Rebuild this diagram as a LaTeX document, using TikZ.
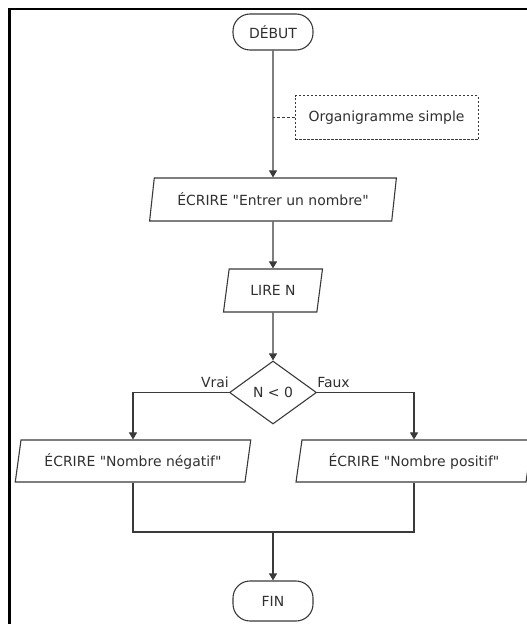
\documentclass[tikz,border=0pt]{standalone}
\usepackage{fontspec}
\setmainfont{DejaVu Sans}
\usetikzlibrary{shapes.geometric,arrows.meta}
\definecolor{ln}{HTML}{3A3A3A}
\definecolor{tx}{HTML}{303030}
\begin{document}
\begin{tikzpicture}[x=1bp,y=-1bp, font=\fontsize{14}{16}\selectfont, text=tx,
  base/.style={draw=ln, line width=1.1bp, inner sep=0pt},
  term/.style={base, rectangle, rounded corners=17bp, minimum width=80bp, minimum height=36bp},
  io/.style={base, trapezium, trapezium left angle=74, trapezium right angle=106, trapezium stretches=true, minimum height=43bp},
  dec/.style={base, diamond, minimum width=87bp, minimum height=63bp},
  note/.style={draw=ln, line width=1bp, dash pattern=on 2.5bp off 1.5bp, minimum width=183bp, minimum height=44bp},
  notelink/.style={draw=ln, line width=1bp, dash pattern=on 3bp off 2bp},
  flow/.style={draw=ln, line width=1.1bp, -{Triangle[width=8bp,length=7bp]}},
  link/.style={draw=ln, line width=1.1bp},
  lbl/.style={inner sep=0pt}]
\useasboundingbox (0,0) rectangle (527,624);
\fill[white] (0,0) rectangle (527,624);
\draw[line width=2.5bp, black, line join=miter] (9.25,624) -- (9.25,9.25) -- (527,9.25);

\node[term] (start) at (273,32) {DÉBUT};
\node[note] (nt) at (386.5,118) {Organigramme simple};
\node[io, minimum width=247bp] (w1) at (273,199.5) {ÉCRIRE \textquotedbl Entrer un nombre\textquotedbl};
\node[io, minimum width=99bp] (rd) at (273,290.5) {LIRE N};
\node[dec] (d) at (273,392.5) {N < 0};
\node[io, minimum width=236bp, minimum height=42bp] (neg) at (133,461) {ÉCRIRE \textquotedbl Nombre négatif\textquotedbl};
\node[io, minimum width=236bp, minimum height=42bp] (pos) at (414,461) {ÉCRIRE \textquotedbl Nombre positif\textquotedbl};
\node[term, minimum height=40bp] (fin) at (273,601) {FIN};
\coordinate (m) at (273,532);

\node[lbl, anchor=base east] (vrai) at ([yshift=5bp]d.west) {Vrai};
\node[lbl, anchor=base west] (faux) at ([yshift=5bp]d.east) {Faux};

\draw[flow] (start) -- (w1);
\draw[notelink] (nt.west) -- (start.south |- nt.west);
\draw[flow] (w1) -- (rd);
\draw[flow] (rd) -- (d);
\draw[flow] (d.west) -| (neg.north);
\draw[flow] (d.east) -| (pos.north);
\draw[link] (neg.south) |- (m) -| (pos.south);
\draw[flow] (m) -- (fin);
\end{tikzpicture}
\end{document}
